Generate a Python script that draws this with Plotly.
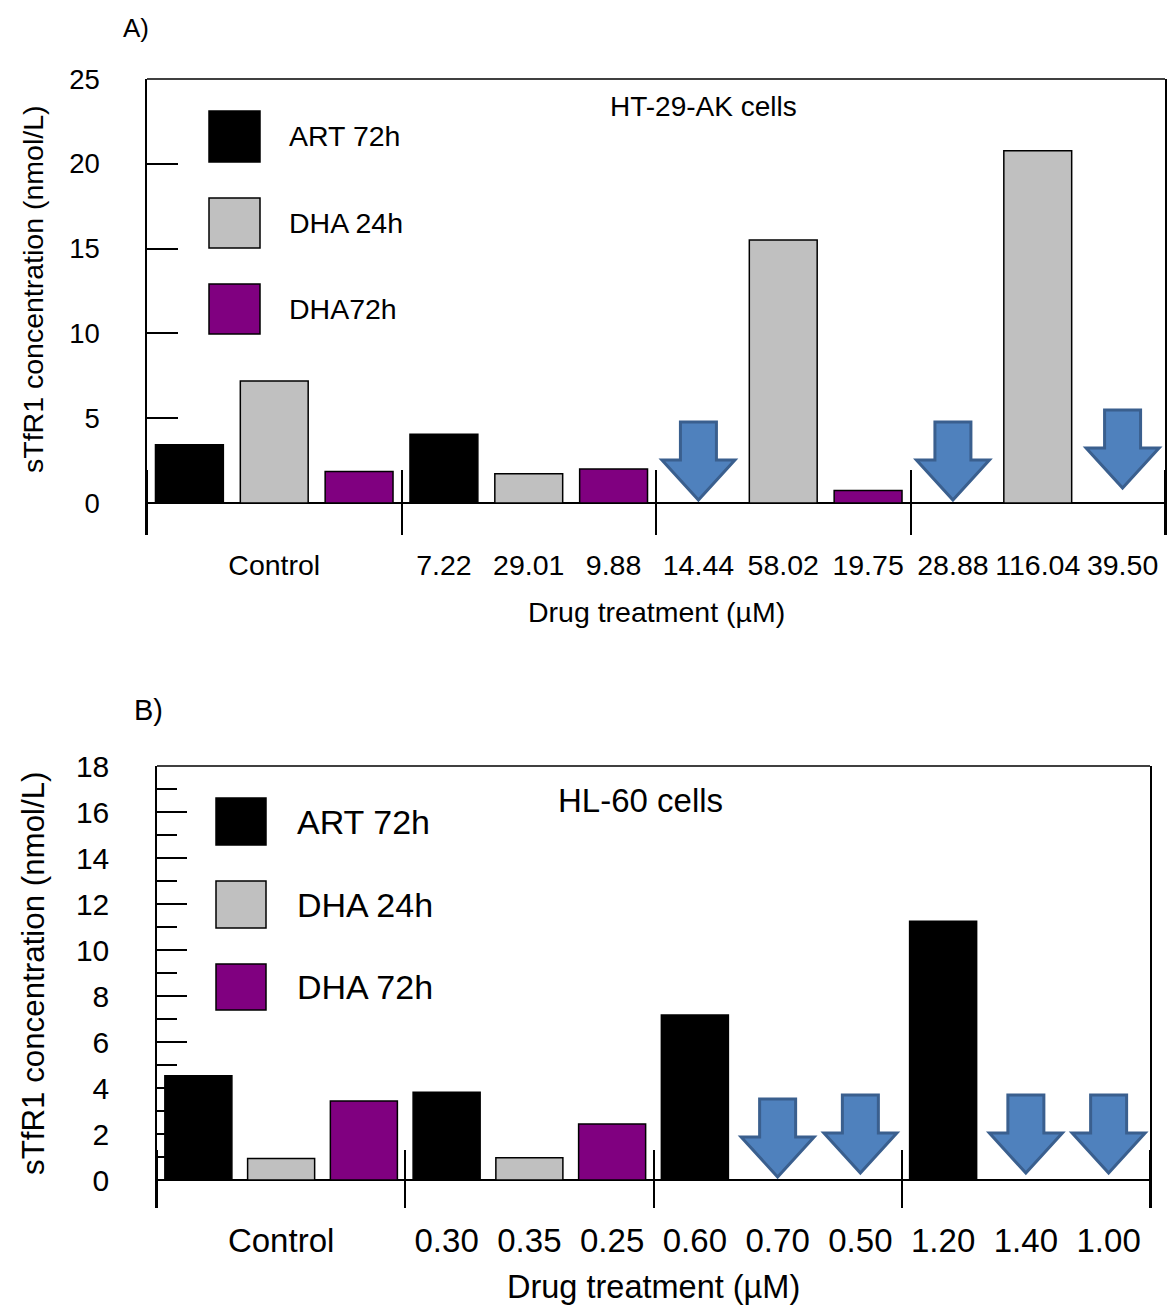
import plotly.graph_objects as go

# ---------------- data ----------------
series_names_A = ["ART 72h", "DHA 24h", "DHA72h"]
series_names_B = ["ART 72h", "DHA 24h", "DHA 72h"]

# one value per treatment group: Control, dose 1, dose 2, dose 3 (None = below detection)
art72_A = [3.44, 4.05, None, None]
dha24_A = [7.20, 1.73, 15.50, 20.77]
dha72_A = [1.85, 2.00, 0.73, None]
dose_labels_A = ["7.22", "29.01", "9.88", "14.44", "58.02", "19.75", "28.88", "116.04", "39.50"]

art72_B = [4.53, 3.82, 7.17, 11.25]
dha24_B = [0.93, 0.97, None, None]
dha72_B = [3.43, 2.43, None, None]
dose_labels_B = ["0.30", "0.35", "0.25", "0.60", "0.70", "0.50", "1.20", "1.40", "1.00"]

# ---------------- style ----------------
W, H = 1174, 1309
FONT = "Liberation Sans, Arial, sans-serif"
COLORS = ["#000000", "#C0C0C0", "#800080"]
ARROW_FILL = "#4F81BD"
ARROW_LINE = "#3A5F8E"
N_GROUPS = 4
N_SER = 3
FS_A = 28.5
FS_B = 33


def px_x(p):
    return p / W


def px_y(p):
    return 1 - p / H


fig = go.Figure()


def slot_positions(group_values, s):
    xs, ys = [], []
    for g, v in enumerate(group_values):
        xs.append(g * N_SER + s + 1)
        ys.append(v)
    return xs, ys


def add_panel(series, names, xa, ya, bar_width):
    for s, vals in enumerate(series):
        xs, ys = slot_positions(vals, s)
        fig.add_trace(go.Bar(
            x=xs, y=ys, width=bar_width, name=names[s],
            marker=dict(color=COLORS[s], line=dict(color="#000000", width=1.5)),
            xaxis=xa, yaxis=ya, showlegend=False,
        ))


add_panel([art72_A, dha24_A, dha72_A], series_names_A, "x", "y", 0.8)
add_panel([art72_B, dha24_B, dha72_B], series_names_B, "x2", "y2", 0.81)


# missing values are marked with a down arrow in their slot
def arrows_for(series, xref, yref, tips, px_per_unit, slot_px):
    shapes = []
    k = 0
    Htot = 78 / px_per_unit
    hh = 40 / px_per_unit
    w = 36.5 / slot_px
    s_ = 18 / slot_px
    for g in range(N_GROUPS):
        for s in range(N_SER):
            if series[s][g] is None:
                c = g * N_SER + s + 1
                t = tips[k]
                k += 1
                path = (f"M {c - s_},{t + Htot} L {c + s_},{t + Htot} L {c + s_},{t + hh} "
                        f"L {c + w},{t + hh} L {c},{t} L {c - w},{t + hh} L {c - s_},{t + hh} Z")
                shapes.append(dict(type="path", path=path, xref=xref, yref=yref,
                                   fillcolor=ARROW_FILL, line=dict(color=ARROW_LINE, width=3),
                                   layer="above"))
    return shapes


tips_A = [0.18, 0.18, 0.88]
tips_B = [0.13, 0.30, 0.30, 0.30]

scale_A = (503 - 79) / 25.0
scale_B = (1180 - 766) / 18.0
slot_A = (1165 - 147) / 12.0
slot_B = (1150 - 157) / 12.0

shapes = []
shapes += arrows_for([art72_A, dha24_A, dha72_A], "x", "y", tips_A, scale_A, slot_A)
shapes += arrows_for([art72_B, dha24_B, dha72_B], "x2", "y2", tips_B, scale_B, slot_B)

# top border of each plot box
for xr, yr in (("x domain", "y domain"), ("x2 domain", "y2 domain")):
    shapes.append(dict(type="line", xref=xr, yref=yr, x0=0, x1=1, y0=1, y1=1,
                       line=dict(color="#000000", width=1.5)))

# custom legends
def legend_block(x0, x1, rows, text_x, names, size):
    out_shapes, out_ann = [], []
    for (y0, y1), col, nm in zip(rows, COLORS, names):
        out_shapes.append(dict(type="rect", xref="paper", yref="paper",
                               x0=px_x(x0), x1=px_x(x1), y0=px_y(y1), y1=px_y(y0),
                               fillcolor=col, line=dict(color="#000000", width=1.5)))
        out_ann.append(dict(text=nm, xref="paper", yref="paper", x=px_x(text_x),
                            y=px_y((y0 + y1) / 2), xanchor="left", yanchor="middle",
                            showarrow=False, font=dict(family=FONT, size=size, color="#000")))
    return out_shapes, out_ann


sA, aA = legend_block(209, 260, [(111, 162), (198, 248), (284, 334)], 287, series_names_A, FS_A)
sB, aB = legend_block(216, 266, [(798, 845), (881, 928), (964, 1010)], 295, series_names_B, FS_B + 1)
shapes += sA + sB

annotations = aA + aB
annotations += [
    dict(text="A)", x=px_x(121), y=px_y(28), xanchor="left", yanchor="middle",
         font=dict(family=FONT, size=26, color="#000")),
    dict(text="B)", x=px_x(132), y=px_y(710), xanchor="left", yanchor="middle",
         font=dict(family=FONT, size=29, color="#000")),
    dict(text="HT-29-AK cells", x=px_x(703), y=px_y(107), xanchor="center", yanchor="middle",
         font=dict(family=FONT, size=28, color="#000")),
    dict(text="HL-60 cells", x=px_x(640), y=px_y(801), xanchor="center", yanchor="middle",
         font=dict(family=FONT, size=FS_B, color="#000")),
    dict(text="sTfR1 concentration (nmol/L)", x=px_x(33), y=px_y(290), textangle=-90,
         xanchor="center", yanchor="middle", font=dict(family=FONT, size=FS_A, color="#000")),
    dict(text="sTfR1 concentration (nmol/L)", x=px_x(33), y=px_y(973), textangle=-90,
         xanchor="center", yanchor="middle", font=dict(family=FONT, size=31.3, color="#000")),
    dict(text="Drug treatment (µM)", x=px_x(656), y=px_y(612), xanchor="center", yanchor="middle",
         font=dict(family=FONT, size=FS_A, color="#000")),
    dict(text="Drug treatment (µM)", x=px_x(653), y=px_y(1307), xanchor="center", yanchor="bottom",
         font=dict(family=FONT, size=FS_B - 0.5, color="#000")),
]
for a in annotations:
    a.setdefault("xref", "paper")
    a.setdefault("yref", "paper")
    a["showarrow"] = False

# x tick labels: "Control" under the control group, dose labels under each slot
tickvals = [2] + list(range(4, 13))
separators = [0.5, 3.5, 6.5, 9.5, 12.5]


def xaxis_cfg(domain, anchor, labels, size, sep_len, standoff):
    return dict(
        domain=domain, anchor=anchor, range=[0.5, 12.5], automargin=False,
        tickmode="array", tickvals=tickvals, ticktext=["Control"] + labels,
        ticks="", showline=False, showgrid=False, zeroline=False,
        tickfont=dict(family=FONT, size=size, color="#000"),
        ticklabelstandoff=standoff,
        minor=dict(tickmode="array", tickvals=separators, ticks="inside",
                   ticklen=sep_len, tickwidth=1.5, tickcolor="#000", showgrid=False),
    )


def yaxis_cfg(domain, anchor, rng, tvals, size, ticklen, standoff, minor_vals=None):
    cfg = dict(
        domain=domain, anchor=anchor, range=rng, automargin=False,
        tickmode="array", tickvals=tvals, ticks="inside", ticklen=ticklen,
        tickwidth=1.5, tickcolor="#000",
        showline=True, linecolor="#000", linewidth=1.5, mirror=True,
        showgrid=False, zeroline=True, zerolinecolor="#000", zerolinewidth=2,
        tickfont=dict(family=FONT, size=size, color="#000"),
        ticklabelstandoff=standoff,
    )
    if minor_vals:
        cfg["minor"] = dict(tickmode="array", tickvals=minor_vals, ticks="inside",
                            ticklen=20, tickwidth=1.5, tickcolor="#000", showgrid=False)
    return cfg


yA = [-(535 - 503) / scale_A, 25]
yB = [-(1208 - 1180) / scale_B, 18]

fig.update_layout(
    width=W, height=H,
    margin=dict(l=0, r=0, t=0, b=0, autoexpand=False),
    paper_bgcolor="white", plot_bgcolor="white",
    barmode="overlay", showlegend=False,
    xaxis=xaxis_cfg([px_x(147), px_x(1165)], "y", dose_labels_A, FS_A, 65, 10),
    yaxis=yaxis_cfg([px_y(535), px_y(79)], "x", yA, [0, 5, 10, 15, 20, 25], 27.5, 31, 40),
    xaxis2=xaxis_cfg([px_x(157), px_x(1150)], "y2", dose_labels_B, FS_B, 58, 10),
    yaxis2=yaxis_cfg([px_y(1208), px_y(766)], "x2", yB, list(range(0, 19, 2)), 30, 30, 40,
                     minor_vals=list(range(1, 18, 2))),
    shapes=shapes,
    annotations=annotations,
)

fig.write_html("out.html")
